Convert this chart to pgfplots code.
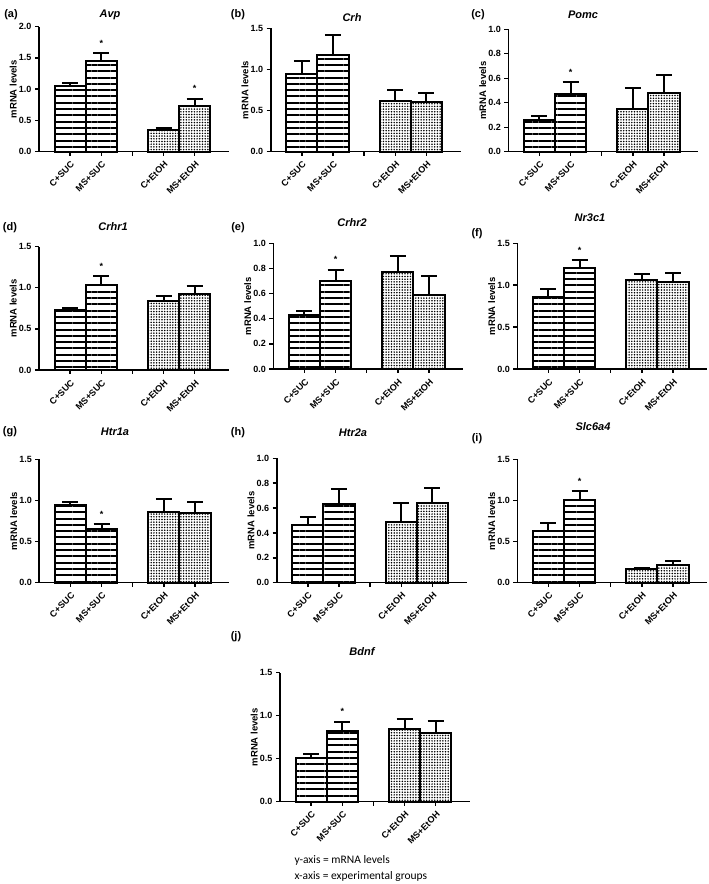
\documentclass[border=0pt]{standalone}
\usepackage{fontspec}
\setmainfont{Liberation Sans}
\newfontfamily\carlito{Carlito}
\usepackage{pgfplots}
\pgfplotsset{compat=1.18}
\usetikzlibrary{patterns.meta}
\pgfplotsset{
  panel/.style={
    scale only axis, width=190pt, anchor=south west,
    xmin=0, xmax=6.1, ymin=0,
    axis x line*=bottom, axis y line*=left,
    axis line style={line width=1.6pt},
    every tick/.style={black, line width=1.4pt},
    major tick length=4pt, tick align=outside,
    xtick={1,2,3,4,5}, xticklabels={C+SUC,MS+SUC,,C+EtOH,MS+EtOH},
    x tick label style={font=\bfseries\fontsize{9}{10}\selectfont, xshift=5pt, yshift=-5pt, rotate=45, anchor=east},
    y tick label style={font=\bfseries\fontsize{9}{10}\selectfont},
    yticklabel style={/pgf/number format/.cd, fixed, fixed zerofill, precision=1, assume math mode=true},
    ylabel={mRNA levels},
    ylabel style={font=\bfseries\fontsize{9.5}{10}\selectfont, at={(axis description cs:-0.135,0.5)}, anchor=center},
    ybar, bar shift=0pt, bar width=1,
    clip=false, enlargelimits=false,
  },
  sucbar/.style={draw=black, line width=2pt,
    pattern={Lines[angle=0,distance=6.3pt,line width=2pt]},
    error bars/y dir=plus, error bars/y explicit,
    error bars/error bar style={line width=2pt, black, solid},
    error bars/error mark options={rotate=90, line width=2pt, mark size=8pt, black}},
  etbar/.style={draw=black, line width=2pt,
    pattern={Dots[distance=2.7pt,radius=0.85pt]},
    error bars/y dir=plus, error bars/y explicit,
    error bars/error bar style={line width=2pt, black, solid},
    error bars/error mark options={rotate=90, line width=2pt, mark size=8pt, black}},
}
\newcommand{\sig}[2]{\node[font=\bfseries\fontsize{9}{9}\selectfont, anchor=center, yshift=10pt] at (axis cs:#1,#2) {*};}
\tikzset{plab/.style={font=\bfseries\fontsize{11}{12}\selectfont}, ttl/.style={font=\bfseries\itshape\fontsize{11}{12}\selectfont}}
\begin{document}
\begin{tikzpicture}
\useasboundingbox (0,0) rectangle (709pt,884pt);
% ---------- row 1
\begin{axis}[panel, at={(39pt,732.3pt)}, height=125pt, ymax=2.0, ytick={0,0.5,1.0,1.5,2.0}]
\addplot[sucbar] coordinates {(1,1.05) +- (0,0.05) (2,1.45) +- (0,0.13)};
\addplot[etbar] coordinates {(4,0.34) +- (0,0.04) (5,0.73) +- (0,0.12)};
\sig{2}{1.58}\sig{5}{0.85}
\end{axis}
\begin{axis}[panel, at={(270.7pt,732.3pt)}, height=123.4pt, ymax=1.5, ytick={0,0.5,1.0,1.5}]
\addplot[sucbar] coordinates {(1,0.95) +- (0,0.15) (2,1.17) +- (0,0.25)};
\addplot[etbar] coordinates {(4,0.62) +- (0,0.13) (5,0.61) +- (0,0.10)};
\end{axis}
\begin{axis}[panel, at={(508.3pt,732.3pt)}, height=122.4pt, ymax=1.0, ytick={0,0.2,0.4,0.6,0.8,1.0}]
\addplot[sucbar] coordinates {(1,0.26) +- (0,0.03) (2,0.47) +- (0,0.10)};
\addplot[etbar] coordinates {(4,0.35) +- (0,0.17) (5,0.48) +- (0,0.15)};
\sig{2}{0.57}
\end{axis}
% ---------- row 2
\begin{axis}[panel, at={(39pt,514pt)}, height=123.3pt, ymax=1.5, ytick={0,0.5,1.0,1.5}]
\addplot[sucbar] coordinates {(1,0.73) +- (0,0.02) (2,1.04) +- (0,0.10)};
\addplot[etbar] coordinates {(4,0.84) +- (0,0.06) (5,0.93) +- (0,0.09)};
\sig{2}{1.14}
\end{axis}
\begin{axis}[panel, at={(273.3pt,515pt)}, height=125.7pt, ymax=1.0, ytick={0,0.2,0.4,0.6,0.8,1.0}]
\addplot[sucbar] coordinates {(1,0.43) +- (0,0.03) (2,0.70) +- (0,0.09)};
\addplot[etbar] coordinates {(4,0.77) +- (0,0.13) (5,0.59) +- (0,0.15)};
\sig{2}{0.79}
\end{axis}
\begin{axis}[panel, at={(517.3pt,515pt)}, height=125.7pt, ymax=1.5, ytick={0,0.5,1.0,1.5}]
\addplot[sucbar] coordinates {(1,0.86) +- (0,0.09) (2,1.20) +- (0,0.10)};
\addplot[etbar] coordinates {(4,1.06) +- (0,0.07) (5,1.04) +- (0,0.10)};
\sig{2}{1.30}
\end{axis}
% ---------- row 3
\begin{axis}[panel, at={(39.3pt,301.3pt)}, height=123.4pt, ymax=1.5, ytick={0,0.5,1.0,1.5}]
\addplot[sucbar] coordinates {(1,0.94) +- (0,0.04) (2,0.65) +- (0,0.06)};
\addplot[etbar] coordinates {(4,0.86) +- (0,0.16) (5,0.85) +- (0,0.13)};
\sig{2}{0.71}
\end{axis}
\begin{axis}[panel, at={(276.7pt,301.3pt)}, height=124.4pt, ymax=1.0, ytick={0,0.2,0.4,0.6,0.8,1.0}]
\addplot[sucbar] coordinates {(1,0.46) +- (0,0.07) (2,0.63) +- (0,0.12)};
\addplot[etbar] coordinates {(4,0.49) +- (0,0.15) (5,0.64) +- (0,0.12)};
\end{axis}
\begin{axis}[panel, at={(517.3pt,301.3pt)}, height=123.4pt, ymax=1.5, ytick={0,0.5,1.0,1.5}]
\addplot[sucbar] coordinates {(1,0.63) +- (0,0.09) (2,1.00) +- (0,0.11)};
\addplot[etbar] coordinates {(4,0.17) +- (0,0.005) (5,0.22) +- (0,0.04)};
\sig{2}{1.11}
\end{axis}
% ---------- row 4
\begin{axis}[panel, at={(280pt,82.3pt)}, height=129pt, ymax=1.5, ytick={0,0.5,1.0,1.5}]
\addplot[sucbar] coordinates {(1,0.51) +- (0,0.04) (2,0.82) +- (0,0.11)};
\addplot[etbar] coordinates {(4,0.84) +- (0,0.12) (5,0.80) +- (0,0.14)};
\sig{2}{0.93}
\end{axis}
% ---------- panel letters and titles
\node[plab] at (11pt,869pt) {(a)};
\node[plab] at (238pt,869pt) {(b)};
\node[plab] at (478pt,869pt) {(c)};
\node[plab] at (10pt,656pt) {(d)};
\node[plab] at (238pt,656pt) {(e)};
\node[plab] at (477pt,650pt) {(f)};
\node[plab] at (10pt,452pt) {(g)};
\node[plab] at (238pt,451pt) {(h)};
\node[plab] at (477pt,445pt) {(i)};
\node[plab] at (236pt,247pt) {(j)};
\node[ttl] at (110pt,869pt) {Avp};
\node[ttl] at (352pt,866pt) {Crh};
\node[ttl] at (583pt,869pt) {Pomc};
\node[ttl] at (113pt,657pt) {Crhr1};
\node[ttl] at (352pt,661pt) {Crhr2};
\node[ttl] at (590pt,666pt) {Nr3c1};
\node[ttl] at (115pt,452pt) {Htr1a};
\node[ttl] at (353pt,451pt) {Htr2a};
\node[ttl] at (593pt,457pt) {Slc6a4};
\node[ttl] at (362pt,232pt) {Bdnf};
\node[font=\carlito\fontsize{11.5}{13}\selectfont, anchor=west] at (291pt,24pt) {y-axis = mRNA levels};
\node[font=\carlito\fontsize{11.5}{13}\selectfont, anchor=west] at (291pt,8pt) {x-axis = experimental groups};
\end{tikzpicture}
\end{document}
